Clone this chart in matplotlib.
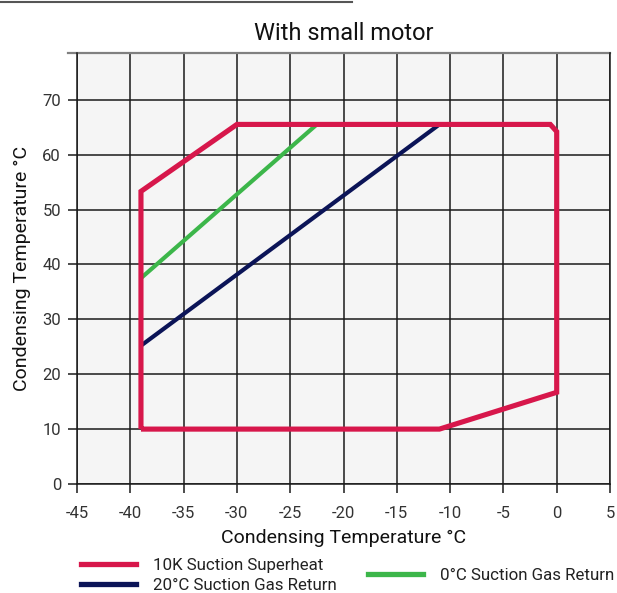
import matplotlib
matplotlib.use("Agg")
import matplotlib.pyplot as plt
from matplotlib.lines import Line2D

# envelope data
superheat_x = [-39, -39, -30, -0.6, 0, 0, -11, -39]
superheat_y = [10, 53.3, 65.5, 65.5, 64.2, 16.7, 10, 10]
gas0_x = [-39, -22.5]
gas0_y = [37.5, 65.5]
gas20_x = [-39, -11]
gas20_y = [25.2, 65.5]

x_ticks = [-45, -40, -35, -30, -25, -20, -15, -10, -5, 0, 5]
y_ticks = [0, 10, 20, 30, 40, 50, 60, 70]

RED = "#d7174b"
NAVY = "#0b1457"
GREEN = "#3cb64a"
TXT = "#111111"

plt.rcParams["font.family"] = ["Roboto", "DejaVu Sans"]
plt.rcParams["font.weight"] = "light"

W, H = 617, 593
fig = plt.figure(figsize=(W / 100, H / 100), dpi=100)
ax = fig.add_axes([77 / W, 1 - 484 / H, 533 / W, (484 - 52.5) / H])
ax.set_facecolor("#f5f5f5")

ax.set_xlim(-45, 5)
ax.set_ylim(0, 78.6)
ax.set_xticks(x_ticks)
ax.set_yticks(y_ticks)
ax.set_xticklabels([str(v) for v in x_ticks])
ax.grid(True, color="#1a1a1a", linewidth=1.1)
ax.set_axisbelow(True)
ax.tick_params(direction="out", length=6.5, width=1.1, color="#1a1a1a",
               labelsize=12, labelcolor="#333333")
ax.tick_params(axis="x", pad=9)
ax.tick_params(axis="y", pad=5)
for lbl in ax.get_xticklabels() + ax.get_yticklabels():
    lbl.set_fontweight("normal")

for s in ["left", "right", "bottom"]:
    ax.spines[s].set_color("#1a1a1a")
    ax.spines[s].set_linewidth(1.1)
ax.spines["top"].set_visible(False)
ax.plot([-9 / 533, 1], [1, 1], transform=ax.transAxes, color="#808080",
        linewidth=1.6, clip_on=False)

ax.plot(gas20_x, gas20_y, color=NAVY, linewidth=3.0, solid_capstyle="butt")
ax.plot(gas0_x, gas0_y, color=GREEN, linewidth=3.0, solid_capstyle="butt")
ax.plot(superheat_x, superheat_y, color=RED, linewidth=3.7,
        solid_joinstyle="miter", solid_capstyle="butt")

ax.set_title("With small motor", fontsize=17, color=TXT, pad=9)
ax.set_xlabel("Condensing Temperature °C", fontsize=14, color=TXT, labelpad=6)
ax.set_ylabel("Condensing Temperature °C", fontsize=14, color=TXT, labelpad=8)

# thin rule at the very top of the image
fig.add_artist(Line2D([0, 352 / W], [1 - 2 / H, 1 - 2 / H], color="#555555",
                      linewidth=1.5))

h_red = Line2D([], [], color=RED, linewidth=3.8)
h_navy = Line2D([], [], color=NAVY, linewidth=3.8)
h_green = Line2D([], [], color=GREEN, linewidth=3.8)

leg_kw = dict(frameon=False, prop={"size": 12.2, "weight": "normal"},
              handlelength=3.25, handletextpad=1.0,
              labelspacing=0.28, borderpad=0, borderaxespad=0, loc="upper left")
leg1 = fig.legend([h_red, h_navy], ["10K Suction Superheat", "20°C Suction Gas Return"],
                  bbox_to_anchor=(81 / W, 1 - 558 / H), **leg_kw)
leg2 = fig.legend([h_green], ["0°C Suction Gas Return"],
                  bbox_to_anchor=(368 / W, 1 - 568 / H), **leg_kw)
for leg in (leg1, leg2):
    for t in leg.get_texts():
        t.set_color("#222222")

fig.savefig("out.png", dpi=100)
